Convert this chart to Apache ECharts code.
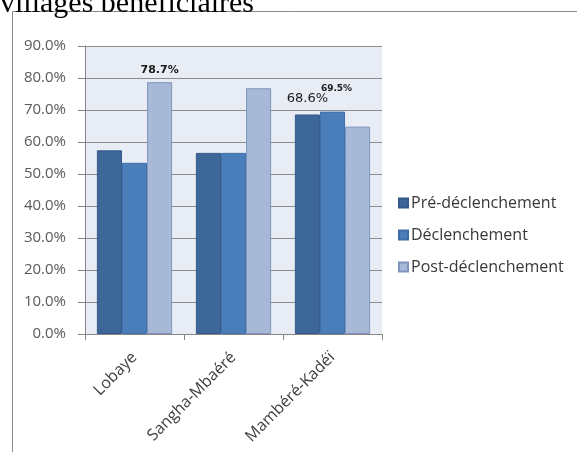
<!DOCTYPE html>
<html>
<head>
<meta charset="utf-8">
<script src="https://cdn.jsdelivr.net/npm/echarts@6/dist/echarts.min.js"></script>
<style>
html,body{margin:0;padding:0;background:#fff;}
#chart{width:577px;height:452px;}
</style>
</head>
<body>
<div id="chart"></div>
<script>
// Régions et séries
const categories = ['Lobaye', 'Sangha-Mbaéré', 'Mambéré-Kadéï'];
const seriesNames = ['Pré-déclenchement', 'Déclenchement', 'Post-déclenchement'];
const preValues = [57.4, 56.6, 68.6];
const declValues = [53.5, 56.6, 69.5];
const postValues = [78.7, 76.8, 64.8];
const yTicks = [0, 10, 20, 30, 40, 50, 60, 70, 80, 90];
const titleText = 'villages bénéficiaires';

const colors = ['#3D6699', '#4A7EBB', '#A8B9D8'];
const borders = ['#34588A', '#3F6DA6', '#7F95BE'];

const labelFont = "'Open Sans', Lato, sans-serif";

// value labels shown on selected bars
const valueLabels = {
  '2-0': { fontSize: 11, fontWeight: 'bold', offset: [0, -2] },
  '0-2': { fontSize: 13, fontWeight: 'normal', offset: [0, -4] },
  '1-2': { fontSize: 9, fontWeight: 'bold', offset: [4, -13] }
};

function buildData(values, si) {
  return values.map((v, ci) => {
    const lab = valueLabels[si + '-' + ci];
    if (!lab) return v;
    return {
      value: v,
      label: {
        show: true,
        position: 'top',
        formatter: v.toFixed(1) + '%',
        color: '#1a1a1a',
        fontFamily: "'DejaVu Sans', Verdana, sans-serif",
        fontSize: lab.fontSize,
        fontWeight: lab.fontWeight,
        offset: lab.offset
      }
    };
  });
}

const allValues = [preValues, declValues, postValues];

const chart = echarts.init(document.getElementById('chart'), null, { renderer: 'canvas' });
chart.setOption({
  animation: false,
  backgroundColor: '#ffffff',
  color: colors,
  graphic: [
    {
      type: 'rect',
      shape: { x: 12.5, y: 11.5, width: 600, height: 460 },
      style: { fill: 'none', stroke: '#8a8a8a', lineWidth: 1 },
      z: 0
    },
    {
      type: 'text',
      x: 0,
      y: 19,
      style: {
        text: titleText,
        font: "30px 'Liberation Serif', 'DejaVu Serif', serif",
        fill: '#000',
        verticalAlign: 'bottom'
      },
      z: 10
    }
  ],
  grid: {
    left: 85, top: 46, width: 297, height: 288,
    show: true, backgroundColor: '#E8ECF4', borderWidth: 0
  },
  legend: {
    orient: 'vertical',
    left: 393, top: 187,
    itemWidth: 9, itemHeight: 9, itemGap: 10,
    icon: 'rect',
    data: seriesNames,
    textStyle: { fontFamily: labelFont, fontSize: 16, lineHeight: 22, color: '#383838', padding: [0, 0, 0, -2] }
  },
  xAxis: {
    type: 'category',
    data: categories,
    axisLine: { lineStyle: { color: '#868686' } },
    axisTick: { show: true, length: 6, lineStyle: { color: '#868686' } },
    axisLabel: {
      rotate: 45, margin: 21, interval: 0,
      fontFamily: labelFont, fontSize: 16, color: '#404040'
    }
  },
  yAxis: {
    type: 'value',
    min: 0, max: 90, interval: 10,
    axisLine: { show: true, lineStyle: { color: '#868686' } },
    axisTick: { show: true, length: 7, lineStyle: { color: '#868686' } },
    splitLine: { lineStyle: { color: '#8C8C8C' } },
    axisLabel: {
      margin: 19,
      fontFamily: labelFont, fontSize: 15, color: '#595959',
      formatter: v => yTicks.includes(v) ? v.toFixed(1) + '%' : ''
    }
  },
  series: seriesNames.map((name, si) => ({
    name,
    type: 'bar',
    data: buildData(allValues[si], si),
    barGap: '0%',
    barCategoryGap: '24%',
    itemStyle: { color: colors[si], borderColor: borders[si], borderWidth: 1 }
  }))
});
</script>
</body>
</html>
